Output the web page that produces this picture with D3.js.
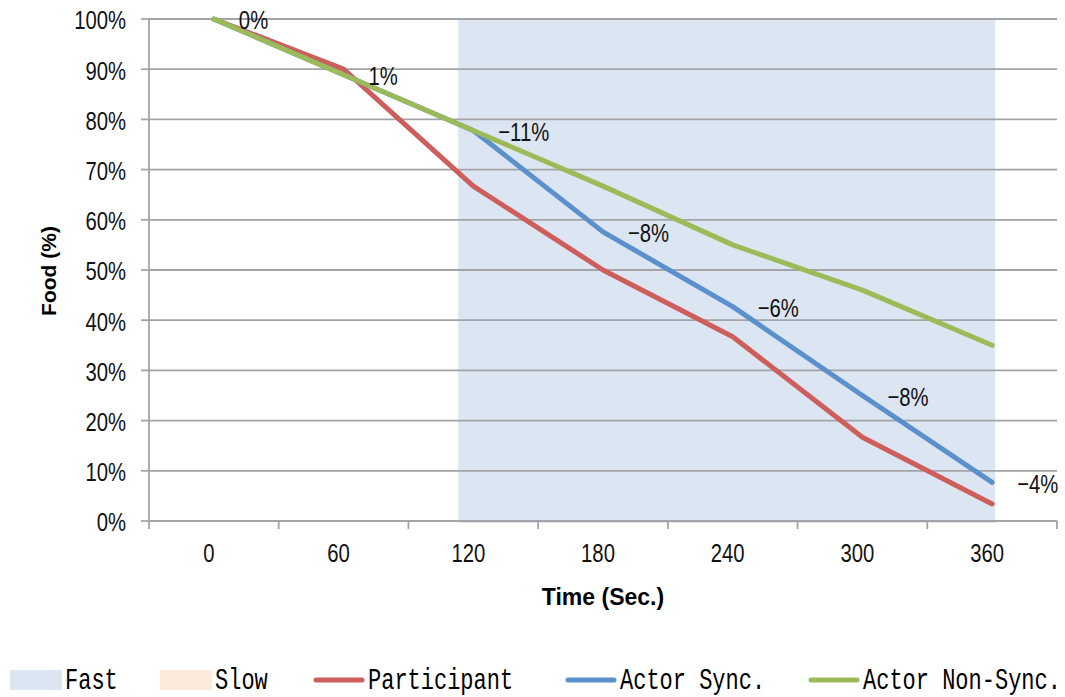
<!DOCTYPE html>
<html>
<head>
<meta charset="utf-8">
<script src="https://cdn.jsdelivr.net/npm/d3@7/dist/d3.min.js"></script>
<style>
  html, body { margin: 0; padding: 0; background: #fff; }
  svg { display: block; }
  .narrow { font-family: "Liberation Sans", Arial, sans-serif; font-size: 26px; fill: #111; }
  .axis-title { font-family: "Liberation Sans", Arial, sans-serif; font-weight: bold; fill: #000; }
  .legend-text { font-family: "Liberation Mono", "DejaVu Sans Mono", monospace; font-size: 22px; fill: #000; }
</style>
</head>
<body>
<svg id="chart" width="1065" height="697"></svg>
<script>
// Time points (seconds) along the x axis
const times = [0, 60, 120, 180, 240, 300, 360];
// Remaining food (%) for each series
const participant = [100, 90, 66.7, 50, 36.7, 16.7, 3.4];
const actorSync = [100, 88.9, 77.8, 57.6, 42.7, 25.0, 7.7];
const actorNonSync = [100, 88.9, 77.8, 66.7, 55.0, 46.0, 35.0];
// Fast phase window (seconds)
const fastWindow = [113, 361.4];
// Y axis ticks (%)
const yTicks = [0, 10, 20, 30, 40, 50, 60, 70, 80, 90, 100];
// Legend entries
const legendNames = ["Fast", "Slow", "Participant", "Actor Sync.", "Actor Non-Sync."];
const legendKinds = ["box", "box", "line", "line", "line"];
const legendColors = ["#dce6f2", "#fdeada", "#cd5e5b", "#5b90cc", "#9bbb59"];

const svg = d3.select("#chart");
const plot = { left: 149, right: 1057, top: 19, bottom: 521 };
const gridColor = "#a2a4a7";

const x = d3.scalePoint().domain(times).range([plot.left, plot.right]).padding(0.5);
const step = x.step();
// continuous time scale aligned with the category centres
const xt = d3.scaleLinear().domain([0, 60]).range([x(0), x(60)]);
const y = d3.scaleLinear().domain([0, 100]).range([plot.bottom, plot.top]);

// condensed label: horizontally squeezed around its anchor point
function narrowText(parent, px, py, anchor, str) {
  const g = parent.append("g").attr("transform", `translate(${px},${py}) scale(0.78,1)`);
  g.append("text").attr("class", "narrow").attr("text-anchor", anchor)
    .attr("dy", "0.36em").text(str);
  return g;
}

// Fast phase shading
svg.append("rect")
  .attr("x", xt(fastWindow[0]))
  .attr("y", y(100) + 1)
  .attr("width", xt(fastWindow[1]) - xt(fastWindow[0]))
  .attr("height", y(0) - y(100) + 1)
  .attr("fill", legendColors[0]);

// horizontal gridlines
svg.append("g").selectAll("line").data(yTicks.filter(d => d > 0)).join("line")
  .attr("x1", plot.left).attr("x2", plot.right)
  .attr("y1", d => y(d)).attr("y2", d => y(d))
  .attr("stroke", gridColor).attr("stroke-width", 1.8);

// Y axis line, ticks and labels
const yAxisG = svg.append("g");
yAxisG.append("line")
  .attr("x1", plot.left).attr("x2", plot.left)
  .attr("y1", plot.top).attr("y2", plot.bottom + 8)
  .attr("stroke", gridColor).attr("stroke-width", 1.8);
yAxisG.selectAll("line.tick").data(yTicks).join("line").attr("class", "tick")
  .attr("x1", plot.left - 8).attr("x2", plot.left)
  .attr("y1", d => y(d)).attr("y2", d => y(d))
  .attr("stroke", gridColor).attr("stroke-width", 1.8);
yTicks.forEach(t => narrowText(yAxisG, 126, y(t) + 1, "end", t + "%"));

// X axis: baseline plus boundary ticks between categories
const xAxisG = svg.append("g");
xAxisG.append("line")
  .attr("x1", plot.left).attr("x2", plot.right)
  .attr("y1", plot.bottom).attr("y2", plot.bottom)
  .attr("stroke", gridColor).attr("stroke-width", 1.8);
const boundaries = times.map(t => x(t) + step / 2);
xAxisG.selectAll("line.tick").data(boundaries).join("line").attr("class", "tick")
  .attr("x1", d => d).attr("x2", d => d)
  .attr("y1", plot.bottom).attr("y2", plot.bottom + 8)
  .attr("stroke", gridColor).attr("stroke-width", 1.8);
times.forEach(t => narrowText(xAxisG, x(t) - 5, 553, "middle", String(t)));

// Series lines
const line = d3.line().x((d, i) => x(times[i])).y(d => y(d));
const series = [
  { values: participant, color: legendColors[2] },
  { values: actorSync, color: legendColors[3] },
  { values: actorNonSync, color: legendColors[4] }
];
svg.append("g").selectAll("path").data(series).join("path")
  .attr("d", d => line(d.values))
  .attr("fill", "none")
  .attr("stroke", d => d.color)
  .attr("stroke-width", 5)
  .attr("stroke-linejoin", "round")
  .attr("stroke-linecap", "round");

// Difference labels (participant minus actor sync), placed beside the sync points
const fmtDiff = v => {
  const r = Math.round(v);
  return (r < 0 ? "\u2212" + Math.abs(r) : String(r)) + "%";
};
const labelG = svg.append("g");
times.forEach((t, i) =>
  narrowText(labelG, x(t) + 25, y(actorSync[i]) + 1, "start", fmtDiff(participant[i] - actorSync[i])));

// Axis titles
svg.append("text").attr("class", "axis-title")
  .attr("x", 603).attr("y", 605).attr("text-anchor", "middle")
  .attr("font-size", 23)
  .text("Time (Sec.)");
svg.append("text").attr("class", "axis-title")
  .attr("transform", "translate(56,271) rotate(-90)")
  .attr("text-anchor", "middle")
  .attr("font-size", 21)
  .text("Food (%)");

// Legend
const legendX = [10, 160, 313, 565, 808];
const legendY = 680;
const lg = svg.append("g").selectAll("g").data(legendNames).join("g")
  .attr("transform", (d, i) => `translate(${legendX[i]},${legendY})`);
lg.each(function(d, i) {
  const g = d3.select(this);
  if (legendKinds[i] === "box") {
    g.append("rect").attr("x", 0).attr("y", -10).attr("width", 52).attr("height", 20)
      .attr("fill", legendColors[i]);
  } else {
    g.append("line").attr("x1", 3).attr("x2", 49).attr("y1", 0).attr("y2", 0)
      .attr("stroke", legendColors[i]).attr("stroke-width", 5).attr("stroke-linecap", "round");
  }
  g.append("g").attr("transform", "translate(55,9) scale(1,1.3)")
    .append("text").attr("class", "legend-text").attr("x", 0).attr("y", 0).text(d);
});
</script>
</body>
</html>
